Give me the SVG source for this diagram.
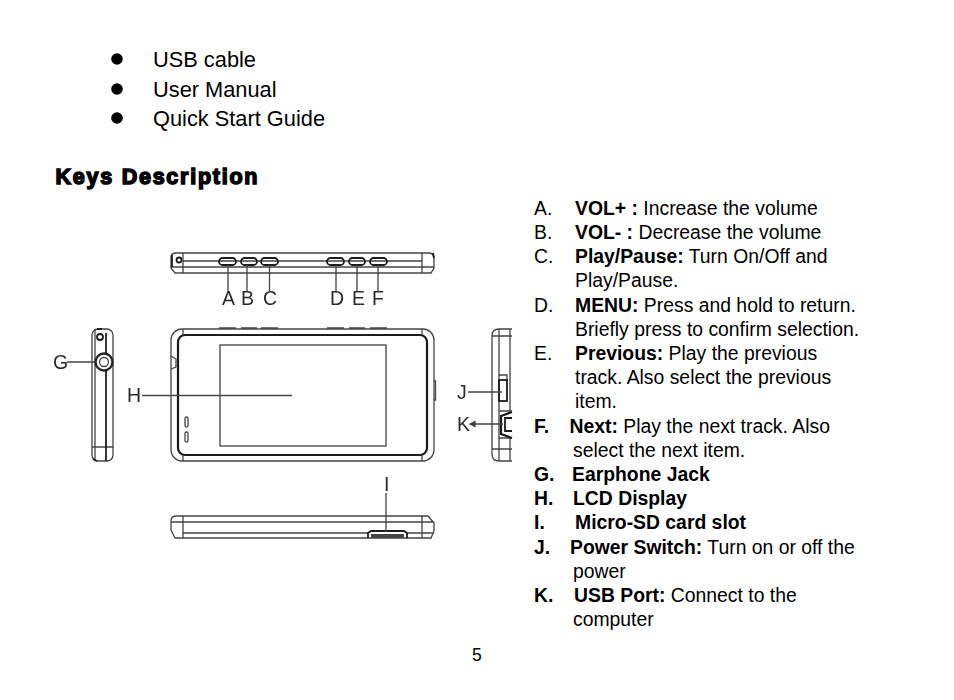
<svg xmlns="http://www.w3.org/2000/svg" width="954" height="700" viewBox="0 0 954 700">
<style>
text{font-family:"Liberation Sans",Arial,sans-serif;fill:#000}
.l{font-size:21.8px}
.t{font-size:19.38px}
.b{font-weight:bold}
.h{font-size:21.5px;font-weight:bold;stroke:#000;stroke-width:1.5px}
.d{font-size:19.5px;fill:#2a2a2a}
.s{fill:none;stroke:#444;stroke-width:1.3}
.k{fill:none;stroke:#1c1c1c;stroke-width:1.8}
.c{fill:none;stroke:#444;stroke-width:1.3}
</style>
<defs><filter id="soft" x="-5%" y="-5%" width="110%" height="110%"><feGaussianBlur stdDeviation="0.45"/></filter></defs>
<rect width="954" height="700" fill="#fff"/>
<g id="list">
<circle cx="117" cy="59" r="5.8"/><text class="l" x="153" y="67">USB cable</text>
<circle cx="117" cy="89" r="5.8"/><text class="l" x="153" y="97">User Manual</text>
<circle cx="117" cy="118" r="5.8"/><text class="l" x="153" y="126">Quick Start Guide</text>
</g>
<text id="heading" class="h" x="55.500" y="184" textLength="202" lengthAdjust="spacing">Keys Description</text>
<g filter="url(#soft)">
<g id="top-view">
<path class="s" d="M183 253H429Q434 253 434 260V268L431 273H175L171 268V256Q172 253 176 253H183V273M171 267H434M183 261H422M422 253V273"/>
<rect class="k" x="219" y="258" width="17" height="7" rx="3.5"/>
<rect class="k" x="241" y="258" width="16" height="7" rx="3.5"/>
<rect class="k" x="261" y="258" width="17" height="7" rx="3.5"/>
<rect class="k" x="327" y="258" width="17" height="7" rx="3.5"/>
<rect class="k" x="349" y="258" width="16" height="7" rx="3.5"/>
<rect class="k" x="370" y="258" width="17" height="7" rx="3.5"/>
<circle class="k" cx="179" cy="260" r="2.5"/>
<path class="k" d="M172 255V267M433 253L434 258"/>
</g>
<g id="front-view">
<rect class="s" x="171" y="329" width="263" height="132" rx="11"/>
<rect class="k" x="178" y="335" width="249" height="120" rx="7" style="stroke-width:2.2"/>
<rect class="s" x="220" y="345" width="166" height="101"/>
<rect class="s" x="185" y="417" width="3" height="10" rx="1.5"/>
<rect class="s" x="185" y="432" width="3" height="10" rx="1.5"/>
<path class="s" d="M171 356L176 359V367L171 369M434 381H435.500V400H434"/>
<path class="s" d="M219 328H236M241 328H257M261 328H278M327 328H344M349 328H365M370 328H387"/>
<path class="s" d="M183 329V335M422 329V335M183 455V461M422 455V461"/>
</g>
<g id="left-view">
<rect class="s" x="92" y="329" width="21" height="132" rx="6"/>
<path class="s" d="M95 329V461M92 447H113"/>
<path class="k" d="M106 333V461"/>
<circle cx="104" cy="362" r="8.5" fill="#fff" stroke="#222" stroke-width="2.4"/>
<circle class="s" cx="104" cy="362" r="4.5"/>
<circle class="k" cx="100" cy="337" r="3"/>
<path class="k" d="M97 329H102M93 459L97 461"/>
</g>
<g id="right-view">
<path class="s" d="M512 329H499Q492 329 492 336V454Q492 461 499 461H512M499 329V461M512 336H492M512 449H492M510 329V411M510 438V461"/>
<path class="s" d="M499 375H507V381"/>
<rect class="k" x="499" y="380" width="8" height="21"/>
<path class="s" d="M499 411H512M499 438H512"/>
<path class="k" d="M512 412L501 416V434L512 438" style="stroke-width:2.2"/>
<path class="k" d="M512 418H505V431H512"/>
</g>
<g id="bottom-view">
<path class="s" d="M176 516H428L434 523V531L431 538H175L171 530V520Q172 516 176 516ZM183 516V538M171 522H434M183 533H368M407 533H434M422 516V538"/>
<path class="k" d="M368 538V533L371 531H404L407 533V538"/>
<rect x="371" y="534" width="33" height="4" fill="#444"/>
</g>
<g id="connectors" class="c">
<path d="M228 265V291M247 265V291M269.500 265V291M336 265V291M357 265V291M378 265V291M67 362H95M142 395.500H292M468 392H502M472 424H503M386 493V532"/>
<path d="M470 424L475 421.500V426.500Z" fill="#444"/>
</g>
<g id="labels">
<text class="d" x="222" y="305">A</text><text class="d" x="241" y="305">B</text><text class="d" x="263" y="305">C</text>
<text class="d" x="330" y="305">D</text><text class="d" x="352" y="305">E</text><text class="d" x="372" y="305">F</text>
<text class="d" x="53" y="369">G</text><text class="d" x="127" y="402">H</text>
<text class="d" x="384" y="491">I</text><text class="d" x="457" y="399">J</text><text class="d" x="457" y="431">K</text>
</g>
</g>
<g id="descriptions">
<text class="t" x="534" y="215">A.</text><text class="t" x="575" y="215"><tspan class="b">VOL+ :</tspan> Increase the volume</text>
<text class="t" x="534" y="239">B.</text><text class="t" x="575" y="239"><tspan class="b">VOL- :</tspan> Decrease the volume</text>
<text class="t" x="534" y="263">C.</text><text class="t" x="575" y="263"><tspan class="b">Play/Pause:</tspan> Turn On/Off and</text>
<text class="t" x="575" y="287">Play/Pause.</text>
<text class="t" x="534" y="312">D.</text><text class="t" x="575" y="312"><tspan class="b">MENU:</tspan> Press and hold to return.</text>
<text class="t" x="575" y="336">Briefly press to confirm selection.</text>
<text class="t" x="534" y="360">E.</text><text class="t" x="575" y="360"><tspan class="b">Previous:</tspan> Play the previous</text>
<text class="t" x="575" y="384">track. Also select the previous</text>
<text class="t" x="575" y="408">item.</text>
<text class="t b" x="534" y="433">F.</text><text class="t" x="569.500" y="433"><tspan class="b">Next:</tspan> Play the next track. Also</text>
<text class="t" x="573" y="457">select the next item.</text>
<text class="t b" x="534" y="481">G.</text><text class="t b" x="572" y="481">Earphone Jack</text>
<text class="t b" x="534" y="505">H.</text><text class="t b" x="573" y="505">LCD Display</text>
<text class="t b" x="534" y="529">I.</text><text class="t b" x="575" y="529">Micro-SD card slot</text>
<text class="t b" x="534" y="554">J.</text><text class="t" x="570" y="554"><tspan class="b">Power Switch:</tspan> Turn on or off the</text>
<text class="t" x="573" y="578">power</text>
<text class="t b" x="534" y="602">K.</text><text class="t" x="574" y="602"><tspan class="b">USB Port:</tspan> Connect to the</text>
<text class="t" x="573" y="626">computer</text>
</g>
<text id="page" x="472" y="661" font-size="17.500">5</text>
</svg>
